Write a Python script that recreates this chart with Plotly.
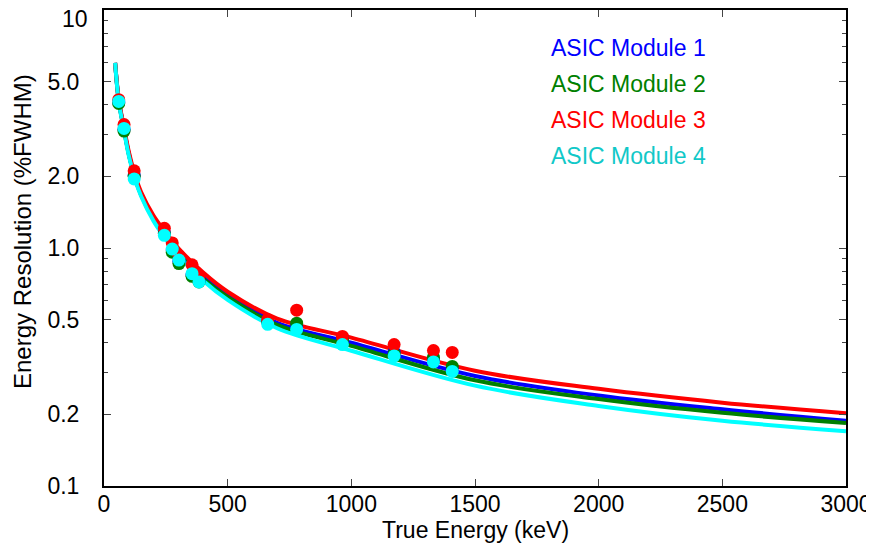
import plotly.graph_objects as go

# Fit curves
curve_energy = [45, 60, 80, 100, 125, 150, 200, 250, 300, 400, 500, 700, 1000, 1500, 2000, 2500, 3000]
curve_m1 = [6.0, 4.15, 3.2, 2.5, 1.98, 1.68, 1.33, 1.12, 0.96, 0.755, 0.635, 0.485, 0.40, 0.290, 0.240, 0.210, 0.188]
curve_m2 = [6.0, 4.12, 3.18, 2.48, 1.97, 1.67, 1.32, 1.11, 0.95, 0.745, 0.623, 0.475, 0.388, 0.278, 0.232, 0.203, 0.184]
curve_m3 = [6.0, 4.2, 3.25, 2.55, 2.03, 1.72, 1.37, 1.16, 1.0, 0.79, 0.655, 0.505, 0.42, 0.305, 0.256, 0.224, 0.202]
curve_m4 = [6.0, 4.1, 3.15, 2.45, 1.95, 1.65, 1.30, 1.09, 0.93, 0.73, 0.605, 0.46, 0.37, 0.264, 0.217, 0.188, 0.170]

# Measured peaks
peak_energy = [59.5, 81, 122, 244, 276, 303, 356, 384, 662, 779, 964, 1173, 1332, 1408]
meas_m1 = [4.1, 3.15, 2.02, 1.16, 0.98, 0.88, 0.77, 0.73, 0.49, 0.47, 0.42, 0.365, 0.34, 0.312]
meas_m2 = [4.05, 3.1, 2.0, 1.15, 0.96, 0.86, 0.76, 0.72, 0.49, 0.483, 0.41, 0.36, 0.347, 0.318]
meas_m3 = [4.2, 3.3, 2.11, 1.21, 1.05, 0.93, 0.85, 0.76, 0.50, 0.548, 0.425, 0.393, 0.371, 0.364]
meas_m4 = [4.13, 3.18, 1.95, 1.13, 0.99, 0.89, 0.78, 0.72, 0.478, 0.455, 0.393, 0.352, 0.332, 0.303]

names = ['ASIC Module 1', 'ASIC Module 2', 'ASIC Module 3', 'ASIC Module 4']
colors = ['#0000ff', '#008000', '#ff0000', '#00ffff']
text_colors = ['#0000ff', '#008000', '#ff0000', '#11c8c8']

y_ticks = [0.1, 0.2, 0.5, 1, 2, 5, 10]
y_tick_text = ['0.1', '0.2', '0.5', '1.0', '2.0', '5.0', '']   # '10' drawn separately, it would be clipped
y_minor = [0.3, 0.4, 0.6, 0.7, 0.8, 0.9, 3, 4, 6, 7, 8, 9]

curves = [curve_m1, curve_m2, curve_m3, curve_m4]
meas = [meas_m1, meas_m2, meas_m3, meas_m4]

fig = go.Figure()
for c, col in zip(curves, colors):
    fig.add_trace(go.Scatter(x=curve_energy, y=c, mode='lines',
                             line=dict(color=col, width=4, shape='spline'),
                             showlegend=False, hoverinfo='skip'))
for m, col in zip(meas, colors):
    fig.add_trace(go.Scatter(x=peak_energy, y=m, mode='markers',
                             marker=dict(color=col, size=13),
                             showlegend=False))

# legend as coloured text
for i, (name, tc) in enumerate(zip(names, text_colors)):
    fig.add_annotation(x=0.5997, y=0.920 - i * 0.0756, xref='paper', yref='paper',
                       text=name, showarrow=False, xanchor='left', yanchor='middle',
                       font=dict(color=tc, size=23))

# axis titles placed by hand
fig.add_annotation(x=0.5, y=-0.0924, xref='paper', yref='paper', text='True Energy (keV)',
                   showarrow=False, xanchor='center', yanchor='middle', font=dict(size=23))
fig.add_annotation(x=-0.1105, y=0.5336, xref='paper', yref='paper', text='Energy Resolution (%FWHM)',
                   showarrow=False, textangle=-90, xanchor='center', yanchor='middle',
                   font=dict(size=24))
fig.add_annotation(x=-0.0189, y=1, xref='paper', yref='paper', text='10', yshift=-9,
                   showarrow=False, xanchor='right', yanchor='middle', font=dict(size=23))

fig.update_layout(
    width=866, height=542,
    margin=dict(l=96, r=28, t=2, b=64),
    plot_bgcolor='white', paper_bgcolor='white',
    font=dict(family='Liberation Sans, Arial, sans-serif', color='black', size=23),
)
fig.update_xaxes(range=[0, 3000], tickvals=[0, 500, 1000, 1500, 2000, 2500, 3000],
                 ticks='inside', ticklen=7, showline=True, linecolor='black', linewidth=2,
                 mirror='ticks', showgrid=False, zeroline=False, automargin=False,
                 tickfont=dict(size=23), ticklabelstandoff=-4, ticklabeloverflow='allow')
fig.update_yaxes(type='log', range=[-1, 1], tickvals=y_ticks, ticktext=y_tick_text,
                 ticks='inside', ticklen=7, showline=True, linecolor='black', linewidth=2,
                 mirror='ticks', showgrid=False, zeroline=False, automargin=False,
                 tickfont=dict(size=23), ticklabelstandoff=18, ticklabeloverflow='allow',
                 minor=dict(tickvals=y_minor, ticks='inside', ticklen=4, showgrid=False))

fig.write_html("out.html")
